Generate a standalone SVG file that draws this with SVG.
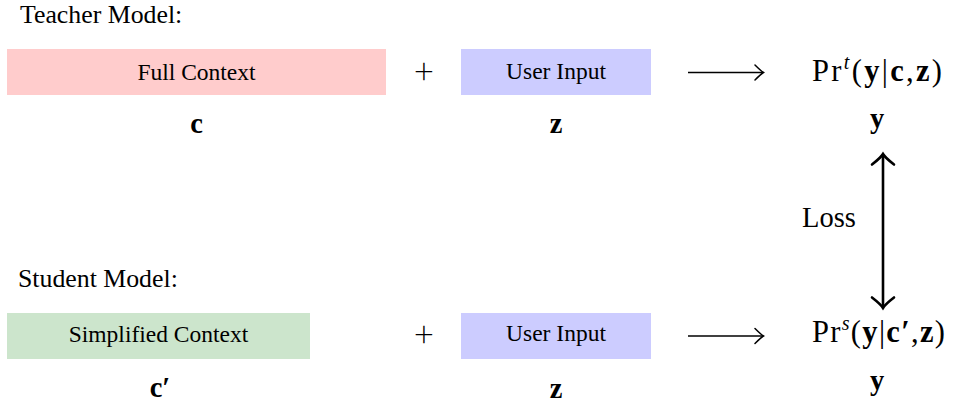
<svg xmlns="http://www.w3.org/2000/svg" width="953" height="408" viewBox="0 0 953 408">
<style>
.lbl{font-family:"Liberation Serif","Times New Roman",serif;font-size:25.8px;fill:#000}
.box{font-family:"Liberation Serif","Times New Roman",serif;font-size:23.5px;fill:#000;text-anchor:middle}
.math{font-family:"Liberation Serif","Times New Roman",serif;font-size:28.5px;fill:#000}
.f{font-size:30.5px}
.b{font-weight:bold}
.mid{text-anchor:middle}
.plus{font-family:Lato,"Liberation Sans",sans-serif;font-weight:300;font-size:35px;fill:#000;text-anchor:middle}
.thin{stroke:#000;stroke-width:1.5;fill:none}
.thick{stroke:#000;stroke-width:2.6;fill:none}
</style>
<defs>
<marker id="hThin" markerUnits="userSpaceOnUse" viewBox="-12 -12 24 24" markerWidth="24" markerHeight="24" refX="0" refY="0" orient="auto" overflow="visible">
<path d="M-8,-7.5 Q-2,-1.5 0.5,0 Q-2,1.5 -8,7.5" stroke="#000" stroke-width="1.5" fill="none" stroke-linecap="round"/>
</marker>
<marker id="hThick" markerUnits="userSpaceOnUse" viewBox="-15 -15 30 30" markerWidth="30" markerHeight="30" refX="0" refY="0" orient="auto-start-reverse" overflow="visible">
<path d="M-9.5,-11 Q-2.5,-2 1,0 Q-2.5,2 -9.5,11" stroke="#000" stroke-width="2.6" fill="none" stroke-linecap="round"/>
</marker>
</defs>

<text class="lbl" x="20" y="23">Teacher Model:</text>
<text class="lbl" x="18" y="287">Student Model:</text>

<g id="full-context">
<rect x="7" y="49" width="379" height="46" fill="#ffcccc"/>
<text class="box" x="196.5" y="80">Full Context</text>
<text class="math b mid" x="196.5" y="133">c</text>
</g>

<g id="plus-top"><text class="plus" x="424" y="83.5">+</text></g>

<g id="user-input-top">
<rect x="461" y="49" width="190" height="46" fill="#ccccff"/>
<text class="box" x="556" y="79">User Input</text>
<text class="math b mid" x="556" y="133">z</text>
</g>

<g id="teacher-output">
<text class="math f" x="812" y="80.7" textLength="130" lengthAdjust="spacing">Pr<tspan font-style="italic" font-size="20" dy="-12">t</tspan><tspan dy="12">(</tspan><tspan class="b">y</tspan>|<tspan class="b">c</tspan>,<tspan class="b">z</tspan>)</text>
<text class="math b mid" x="877" y="128">y</text>
</g>

<g id="simplified-context">
<rect x="7" y="313" width="303" height="46" fill="#cce5cc"/>
<text class="box" x="158.5" y="341.7">Simplified Context</text>
<text class="math b mid" x="160" y="397">c′</text>
</g>

<g id="plus-bottom"><text class="plus" x="424" y="347">+</text></g>

<g id="user-input-bottom">
<rect x="461" y="313" width="190" height="46" fill="#ccccff"/>
<text class="box" x="556" y="341">User Input</text>
<text class="math b mid" x="556" y="398">z</text>
</g>

<g id="student-output">
<text class="math f" x="812" y="341.7" textLength="133" lengthAdjust="spacing">Pr<tspan font-style="italic" font-size="20" dy="-12">s</tspan><tspan dy="12">(</tspan><tspan class="b">y</tspan>|<tspan class="b">c′</tspan>,<tspan class="b">z</tspan>)</text>
<text class="math b mid" x="877" y="390">y</text>
</g>

<g id="loss-label">
<text class="math" x="802" y="227">Loss</text>
</g>

<g id="connectors">
<line class="thin" x1="688" y1="72.5" x2="763" y2="72.5" marker-end="url(#hThin)"/>
<line class="thin" x1="688" y1="336" x2="763" y2="336" marker-end="url(#hThin)"/>
<line class="thick" x1="883" y1="155" x2="883" y2="307" marker-start="url(#hThick)" marker-end="url(#hThick)"/>
</g>
</svg>
